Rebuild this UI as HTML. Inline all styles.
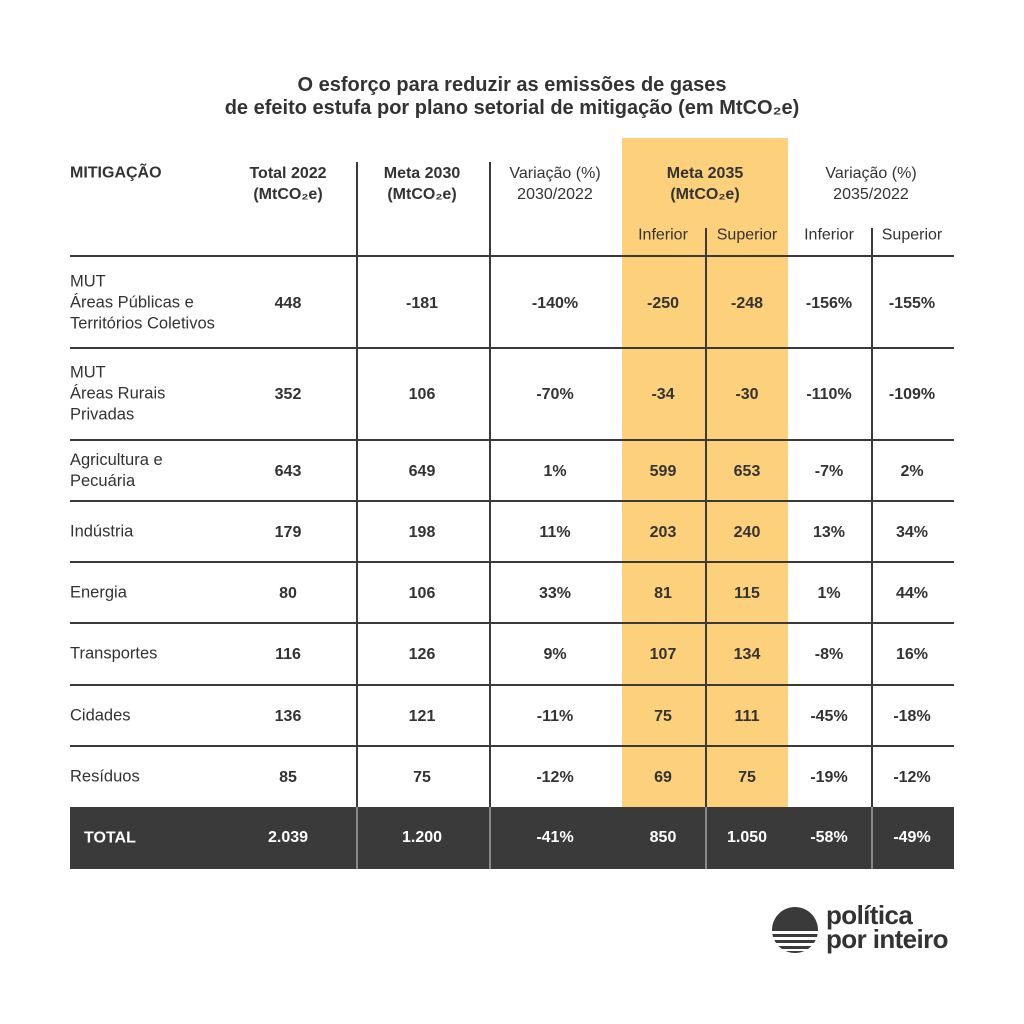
<!DOCTYPE html>
<html><head><meta charset="utf-8">
<style>
body{margin:0;background:#fff;}
#c{position:relative;width:1024px;height:1024px;background:#fff;font-family:"Liberation Sans",sans-serif;color:#333;overflow:hidden}
.a{position:absolute}
.t{position:absolute;transform:translate(-50%,-50%);white-space:nowrap;font-size:16px;text-align:center}
.b{font-weight:bold}
.l{position:absolute;transform:translateY(-50%);font-size:16.5px;line-height:21px;white-space:nowrap}
</style></head><body>
<div id="c">
<div class="a b" style="left:0;width:1024px;top:74px;text-align:center;font-size:20px;line-height:23px;color:#333">O esforço para reduzir as emissões de gases<br>de efeito estufa por plano setorial de mitigação (em MtCO₂e)</div>
<div class="a" style="left:622px;top:138px;width:166px;height:669px;background:#fdd07c"></div>
<div class="a" style="left:70px;top:807px;width:884px;height:62px;background:#3a3a3a"></div>
<div class="a" style="left:70px;top:255px;width:884px;height:2px;background:#3a3a3a"></div>
<svg class="a" style="left:771px;top:906px" width="48" height="48" viewBox="0 0 48 48">
<defs><clipPath id="cc"><circle cx="24" cy="24" r="23"/></clipPath></defs>
<g clip-path="url(#cc)" fill="#3a3a3a"><rect x="0" y="0" width="48" height="25"/><rect x="0" y="28" width="48" height="3"/><rect x="0" y="34" width="48" height="3"/><rect x="0" y="40" width="48" height="3"/><rect x="0" y="45" width="48" height="3"/></g></svg>
<div class="a b" style="left:826px;top:903px;font-size:26px;line-height:24px;color:#333;letter-spacing:-0.6px">política<br>por inteiro</div>
</div>
<script>
const sectors=[["MUT","Áreas Públicas e","Territórios Coletivos"],["MUT","Áreas Rurais","Privadas"],["Agricultura e","Pecuária"],["Indústria"],["Energia"],["Transportes"],["Cidades"],["Resíduos"]];
const total2022=["448","352","643","179","80","116","136","85"];
const meta2030=["-181","106","649","198","106","126","121","75"];
const var2030=["-140%","-70%","1%","11%","33%","9%","-11%","-12%"];
const meta2035Inf=["-250","-34","599","203","81","107","75","69"];
const meta2035Sup=["-248","-30","653","240","115","134","111","75"];
const var2035Inf=["-156%","-110%","-7%","13%","1%","-8%","-45%","-19%"];
const var2035Sup=["-155%","-109%","2%","34%","44%","16%","-18%","-12%"];
const totals=["TOTAL","2.039","1.200","-41%","850","1.050","-58%","-49%"];
const colX=[288,422,555,663,747,829,912];
const rowTop=[257,348,440,501,562,623,685,746,807];
const c=document.getElementById('c');
function add(html){const d=document.createElement('div');d.innerHTML=html;const e=d.firstChild;c.appendChild(e);return e;}
[[356,162],[489,162],[705,228],[871,228]].forEach(([x,y0])=>{
 const e=add(`<div class="a" style="left:${x}px;top:${y0}px;width:1.5px;height:${807-y0}px;background:#3a3a3a"></div>`);
 
 
 const f=add(`<div class="a" style="left:${x}px;top:807px;width:1.5px;height:62px;background:#888"></div>`);
 
 
});
const hdr=[[100,173,"MITIGAÇÃO",1,"left"],[288,184,"Total 2022<br>(MtCO₂e)",1],[422,184,"Meta 2030<br>(MtCO₂e)",1],[555,184,"Variação (%)<br>2030/2022",0],[705,184,"Meta 2035<br>(MtCO₂e)",1],[871,184,"Variação (%)<br>2035/2022",0],[663,235,"Inferior",0],[747,235,"Superior",0],[829,235,"Inferior",0],[912,235,"Superior",0]];
hdr.forEach(h=>{
 let e;
 if(h[4]) e=add(`<div class="l b" style="left:70px;top:${h[1]}px;font-size:16px">${h[2]}</div>`);
 else e=add(`<div class="t${h[3]?' b':''}" style="left:${h[0]}px;top:${h[1]}px;line-height:21px">${h[2]}</div>`);
 
 
});
for(let i=0;i<sectors.length;i++){
 const yc=(rowTop[i]+rowTop[i+1])/2;
 if(i>0){const s=add(`<div class="a" style="left:70px;top:${rowTop[i]-1}px;width:884px;height:1.5px;background:#3a3a3a"></div>`);
 
 }
 const lab=add(`<div class="l" style="left:70px;top:${yc}px">${sectors[i].join('<br>')}</div>`);
 
 
 const vals=[total2022[i],meta2030[i],var2030[i],meta2035Inf[i],meta2035Sup[i],var2035Inf[i],var2035Sup[i]];
 vals.forEach((v,j)=>{
  const e=add(`<div class="t b" style="left:${colX[j]}px;top:${yc+1}px">${v}</div>`);
  
  
 });
}
const ty=838;
const tl=add(`<div class="l b" style="left:84px;top:${ty}px;color:#fff;font-size:16px">${totals[0]}</div>`);


for(let j=0;j<7;j++){
 const e=add(`<div class="t b" style="left:${colX[j]}px;top:${ty}px;color:#fff">${totals[j+1]}</div>`);
 
 
}
</script>
</body></html>
